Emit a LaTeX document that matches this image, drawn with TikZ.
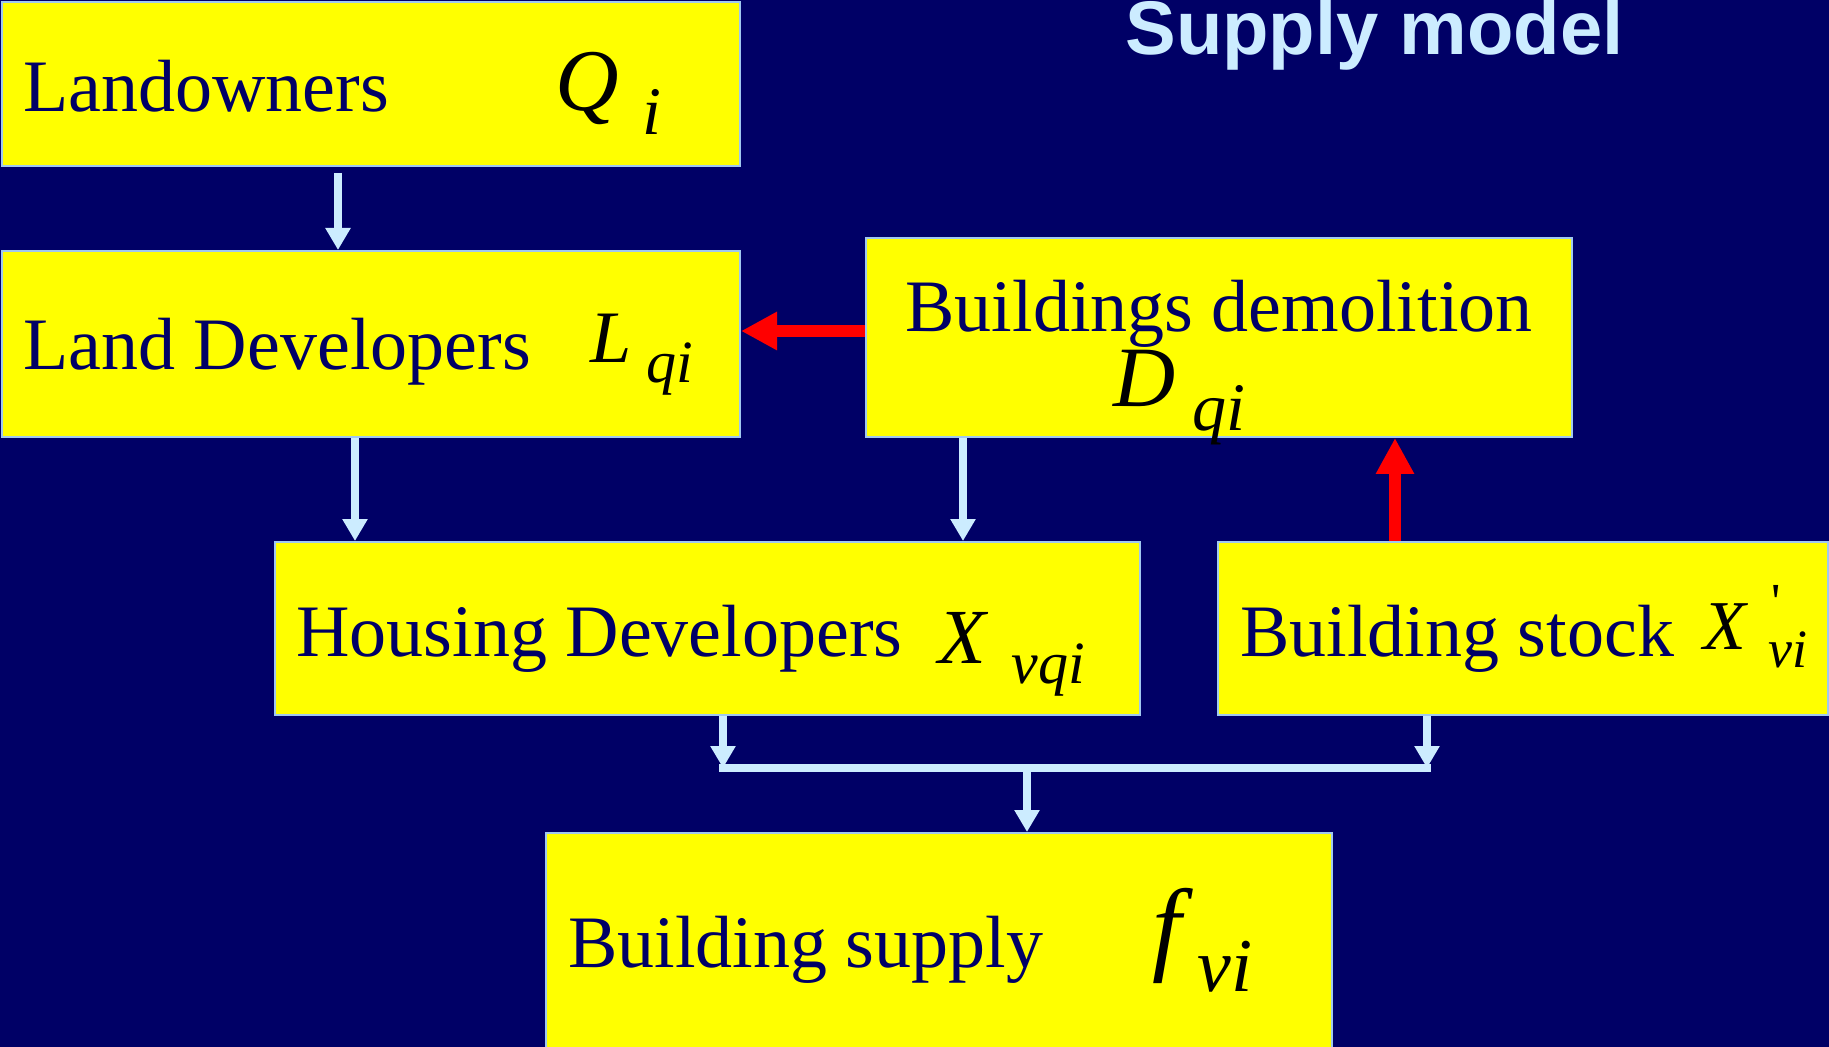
\documentclass[tikz,border=0pt]{standalone}
\usepackage{fontspec}
\setmainfont{Liberation Serif}
\newfontfamily\titlesans{Liberation Sans}
\usetikzlibrary{arrows.meta,fit}
\definecolor{navy}{RGB}{0,0,102}
\definecolor{boxyellow}{RGB}{255,255,0}
\definecolor{boxedge}{RGB}{160,200,240}
\definecolor{arrowblue}{RGB}{204,236,255}
\definecolor{arrowred}{RGB}{255,0,0}
\newcommand{\fsz}[1]{\fontsize{#1}{#1}\selectfont}
\begin{document}
\begin{tikzpicture}[x=0.5pt,y=-0.5pt,
  box/.style={draw=boxedge, line width=1pt, fill=boxyellow, inner sep=0pt},
  word/.style={anchor=base west, inner sep=0pt, text=navy},
  sym/.style={anchor=base west, inner sep=0pt, text=black},
  warrow/.style={draw=arrowblue, line width=4pt, -{Triangle[width=12pt,length=11pt]}},
  rarrow/.style={draw=arrowred, line width=6pt, -{Triangle[width=18pt,length=18pt]}},
  wline/.style={draw=arrowblue, line width=4pt},
]
\fill[navy] (0,0) rectangle (1829,1047);
\useasboundingbox (0,0) rectangle (1829,1047);

% boxes
\node[box, fit={(2,2) (740,166)}] (lo) {};
\node[box, fit={(2,251) (740,437)}] (ld) {};
\node[box, fit={(866,238) (1572,437)}] (bd) {};
\node[box, fit={(275,542) (1140,715)}] (hd) {};
\node[box, fit={(1218,542) (1828,715)}] (bs) {};
\node[box, fit={(546,833) (1332,1052)}] (sup) {};

% title
\node[anchor=base west, inner sep=0pt, text=arrowblue, font=\titlesans\bfseries\fsz{38}] (title) at (1125,55) {Supply model};

% texts
\node[word, font=\fsz{37}] (tlo) at (23,112) {Landowners};
\node[sym, font=\itshape\fsz{44}] (tq) at (555,111) {Q};
\node[sym, font=\itshape\fsz{34}] (tqi) at (642,135) {i};

\node[word, font=\fsz{37}] (tld) at (23,370) {Land Developers};
\node[sym, font=\itshape\fsz{37}] (tl) at (590,363) {L};
\node[sym, font=\itshape\fsz{30}] (tlqi) at (646,383) {qi};

\node[anchor=base, inner sep=0pt, text=navy, font=\fsz{37}] (tbd) at (1219,332) {Buildings demolition};
\node[sym, font=\itshape\fsz{43}] (td) at (1113,407) {D};
\node[sym, font=\itshape\fsz{34}] (tdqi) at (1192,430) {qi};

\node[word, font=\fsz{37}] (thd) at (296,656) {Housing Developers};
\node[sym, font=\itshape\fsz{39}] (tx) at (938,663) {X};
\node[sym, font=\itshape\fsz{30}] (txvqi) at (1011,683) {vqi};

\node[word, font=\fsz{37}] (tbs) at (1240,656) {Building stock};
\node[sym, font=\itshape\fsz{35}] (tx2) at (1703,649) {X};
\node[anchor=north, inner sep=0pt, text=black, font=\fsz{26}] (tprime) at (1776,585) {\textquotesingle};
\node[sym, font=\itshape\fsz{27}] (tx2vi) at (1768,667) {vi};

\node[word, font=\fsz{37}] (tsup) at (568,967) {Building supply};
\node[sym, font=\itshape\fsz{52}] (tf) at (1152,961) {f};
\node[sym, font=\itshape\fsz{38}] (tfvi) at (1197,991) {vi};

% connectors
\coordinate (j1) at (723,768);
\coordinate (j2) at (1427,768);
\coordinate (j3) at (1027,768);
\draw[warrow, shorten <=3pt] (338,0 |- lo.south) -- (338,0 |- ld.north);
\draw[warrow] (355,0 |- ld.south) -- (355,0 |- hd.north);
\draw[warrow] (963,0 |- bd.south) -- (963,0 |- hd.north);
\draw[rarrow] (bd.west |- 0,331) -- (ld.east |- 0,331);
\draw[rarrow] (1395,0 |- bs.north) -- (1395,0 |- bd.south);
\draw[wline] ([xshift=-2pt]j1) -- ([xshift=2pt]j2);
\draw[warrow] (723,0 |- hd.south) -- (j1);
\draw[warrow] (1427,0 |- bs.south) -- (j2);
\draw[warrow] (j3) -- (1027,0 |- sup.north);
\end{tikzpicture}
\end{document}
